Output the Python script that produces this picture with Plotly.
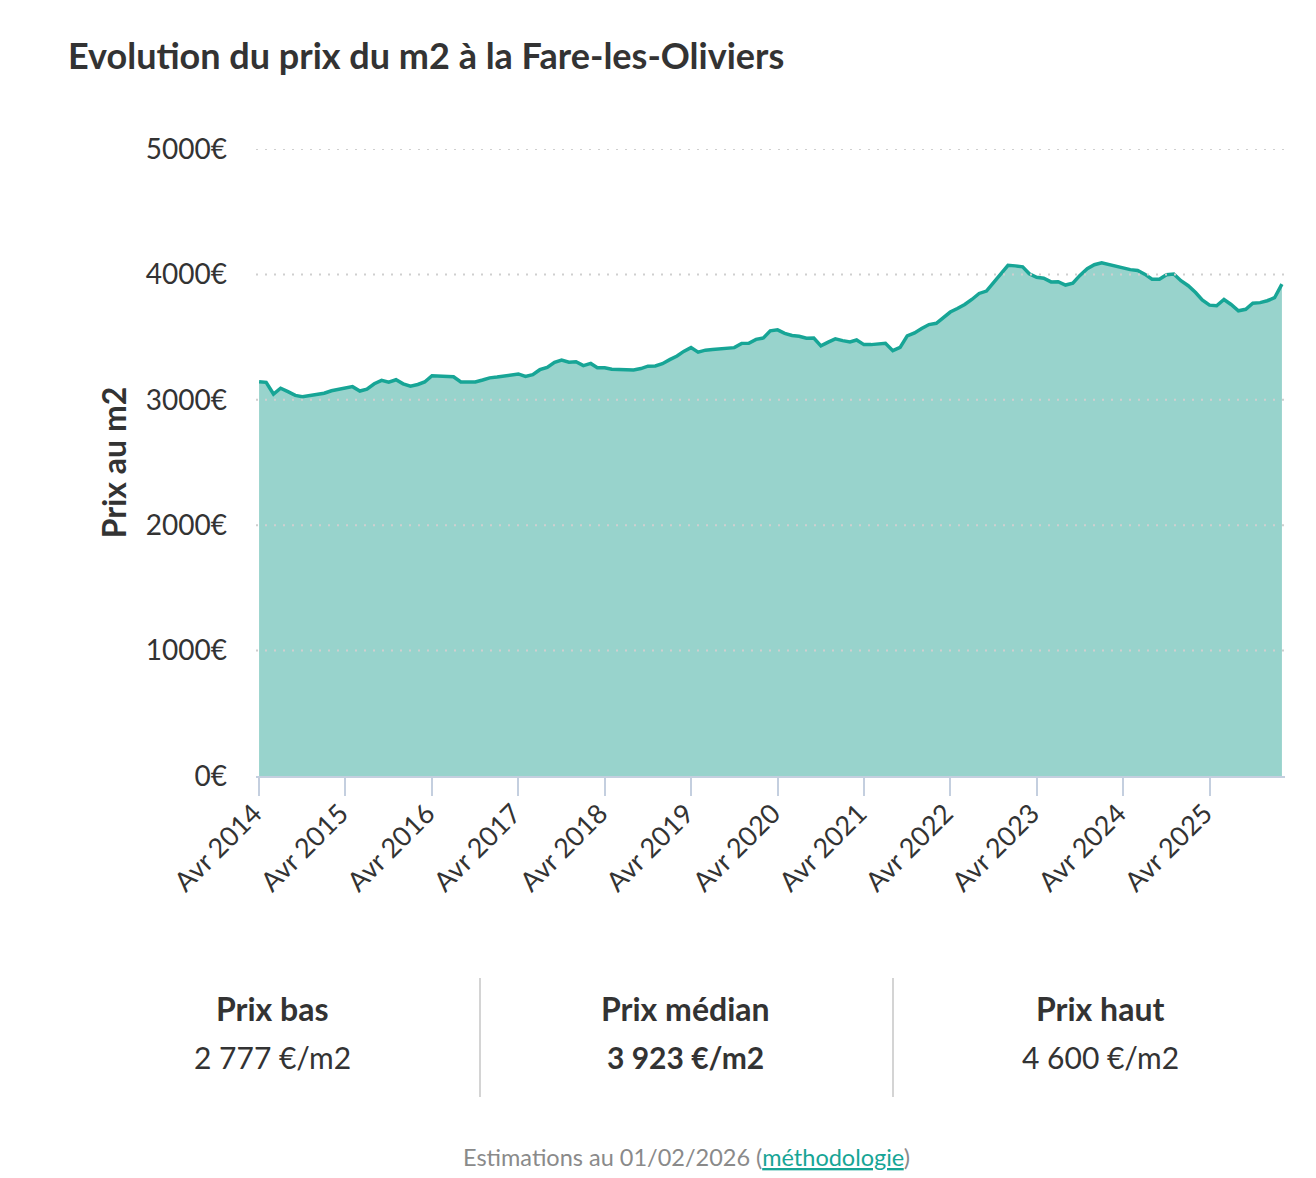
import plotly.graph_objects as go
import pandas as pd

# monthly estimates, Apr 2014 -> Feb 2026
start_month = "2014-04-01"
prix = [
    3144, 3139, 3046, 3092, 3065, 3035, 3025, 3032, 3043, 3052,
    3072, 3083, 3097, 3105, 3070, 3085, 3128, 3155, 3140, 3160,
    3127, 3108, 3122, 3142, 3192, 3190, 3187, 3184, 3142, 3140,
    3142, 3158, 3175, 3181, 3190, 3200, 3206, 3186, 3201, 3240,
    3259, 3299, 3317, 3300, 3304, 3273, 3290, 3255, 3256, 3243,
    3240, 3238, 3238, 3249, 3268, 3270, 3288, 3320, 3349, 3386,
    3416, 3380, 3396, 3402, 3405, 3408, 3416, 3450, 3451, 3482,
    3493, 3550, 3558, 3530, 3513, 3507, 3491, 3493, 3430, 3460,
    3486, 3472, 3462, 3477, 3440, 3440, 3445, 3450, 3392, 3418,
    3510, 3533, 3568, 3600, 3610, 3655, 3700,
    3728, 3760, 3800, 3848, 3867, 3935, 4005, 4072, 4068, 4060, 4005,
    3977, 3970, 3940, 3942, 3915, 3930, 3992, 4045, 4077, 4093, 4078, 4068,
    4050, 4038, 4031, 4002, 3962, 3962, 3998, 4003, 3950, 3910, 3855, 3797,
    3755, 3750, 3800, 3760, 3710, 3722, 3770, 3775, 3790, 3814, 3923,
]
mois = pd.date_range(start_month, periods=len(prix), freq="MS")

tick_dates = ["%d-04-01" % y for y in range(2014, 2026)]
tick_labels = ["Avr %d" % y for y in range(2014, 2026)]
y_ticks = [0, 1000, 2000, 3000, 4000, 5000]
y_labels = ["%d€" % v for v in y_ticks]

stats_titres = ["Prix bas", "Prix médian", "Prix haut"]
stats_valeurs = ["2 777 €/m2", "<b>3 923 €/m2</b>", "4 600 €/m2"]

TEAL = "#17a596"
FILL = "#98d3cc"
TXT = "#333333"
AXIS = "#c4cfdf"

# page has an 8px body margin, so the figure is a bit smaller than the window
OFF = 8
W, H = 1300, 1170
# plot area in screen pixels
L, R, T, B = 256, 1285, 149, 776


def fx(x):
    return (x - L) / (R - L)


def fy(y):
    return (B - y) / (B - T)


fig = go.Figure()
fig.add_trace(go.Scatter(
    x=mois, y=prix,
    mode="lines",
    line=dict(color=TEAL, width=3.5),
    fill="tozeroy",
    fillcolor=FILL,
    hovertemplate="%{y} €<extra></extra>",
))

fig.update_layout(
    width=W, height=H,
    margin=dict(l=L - OFF, r=W - (R - OFF), t=T - OFF, b=H - (B - OFF)),
    paper_bgcolor="white",
    plot_bgcolor="white",
    showlegend=False,
    font=dict(family="Lato", color=TXT, size=22),
    xaxis=dict(
        range=["2014-03-19", "2026-02-14"],
        tickvals=tick_dates,
        ticktext=tick_labels,
        tickangle=-45,
        ticks="outside",
        ticklen=18,
        tickwidth=2,
        tickcolor=AXIS,
        showline=True,
        linecolor=AXIS,
        linewidth=2,
        showgrid=False,
        zeroline=False,
        layer="above traces",
        ticklabelstandoff=-9,
        ticklabelshift=-5,
        tickfont=dict(size=27, color=TXT),
    ),
    yaxis=dict(
        range=[0, 5000],
        tickvals=y_ticks,
        ticktext=y_labels,
        showgrid=False,
        zeroline=False,
        showline=False,
        ticklabelstandoff=28,
        tickfont=dict(size=28, color=TXT),
        title=dict(text="<b>Prix au m2</b>", font=dict(size=32, color=TXT), standoff=9),
    ),
)

# dotted grid drawn over the filled area, as in the original
for v in y_ticks[1:]:
    fig.add_shape(type="line", xref="paper", yref="y", x0=0, x1=1, y0=v, y1=v,
                  layer="above", line=dict(color="#cfcfcf", width=2, dash="2px,7px"))

annotations = [
    dict(text="<b>Evolution du prix du m2 à la Fare-les-Oliviers</b>",
         x=fx(66), y=fy(55), xanchor="left", yanchor="middle",
         font=dict(size=36, color=TXT)),
]
centres = [272, 685, 1100]
for cx, titre, val in zip(centres, stats_titres, stats_valeurs):
    annotations.append(dict(text="<b>%s</b>" % titre, x=fx(cx), y=fy(1009),
                            xanchor="center", yanchor="middle",
                            font=dict(size=32, color=TXT)))
    annotations.append(dict(text=val, x=fx(cx), y=fy(1057),
                            xanchor="center", yanchor="middle",
                            font=dict(size=30, color=TXT)))
annotations.append(dict(
    text="Estimations au 01/02/2026 (<span style='color:#17a596'><u>méthodologie</u></span>)",
    x=fx(686), y=fy(1157), xanchor="center", yanchor="middle",
    font=dict(size=23.5, color="#8a8a8a")))
for a in annotations:
    a.update(xref="paper", yref="paper", showarrow=False)
fig.update_layout(annotations=annotations)

for sx in [480, 893]:
    fig.add_shape(type="line", xref="paper", yref="paper",
                  x0=fx(sx), x1=fx(sx), y0=fy(978), y1=fy(1097),
                  line=dict(color="#d4d4d4", width=2))

fig.write_html("out.html")
